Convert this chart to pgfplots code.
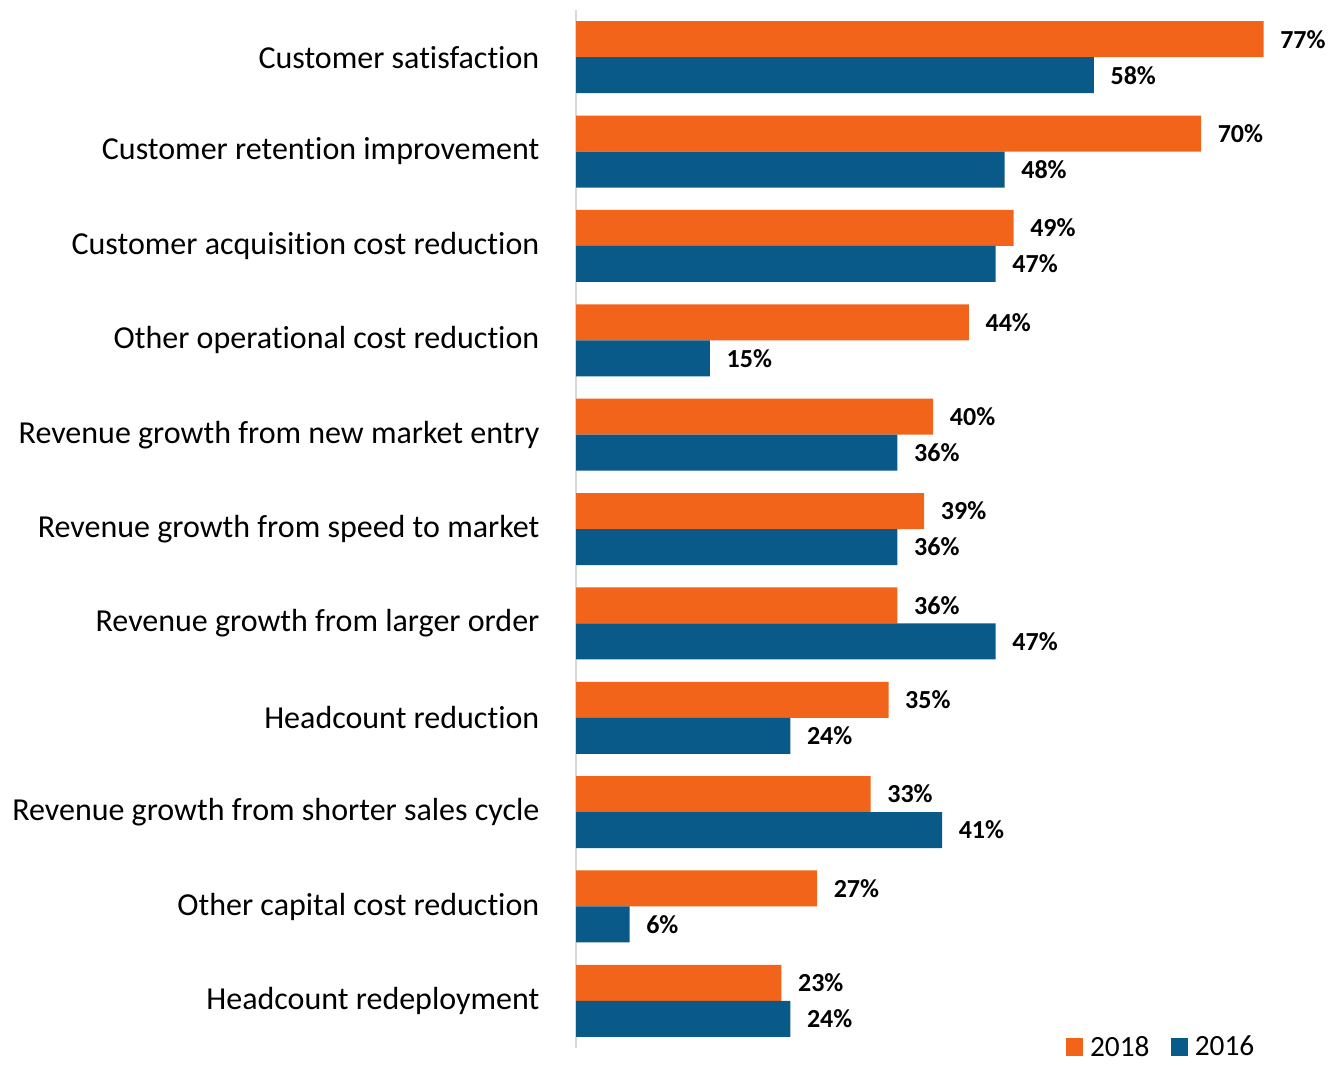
\documentclass[border=0pt]{standalone}
\usepackage{pgfplots}
\pgfplotsset{compat=1.18}
\usepackage{fontspec}
\setmainfont{Carlito}[Ligatures={NoCommon}]
\definecolor{c18}{HTML}{F26419}
\definecolor{c16}{HTML}{0A5A89}
\begin{document}
\begin{tikzpicture}
\path[use as bounding box] (0pt,0pt) rectangle (1002.75pt,-798pt);
\begin{axis}[
 at={(432pt,-7.5pt)}, anchor=north west,
 scale only axis, width=569.25pt, height=778.5pt,
 /pgf/number format/assume math mode=true,
 xbar, bar width=27pt,
 xmin=0, xmax=85,
 ymin=-0.5, ymax=10.5, y dir=reverse,
 ytick={0,...,10},
 yticklabels={Customer satisfaction,Customer retention improvement,Customer acquisition cost reduction,Other operational cost reduction,Revenue growth from new market entry,Revenue growth from speed to market,Revenue growth from larger order,Headcount reduction,Revenue growth from shorter sales cycle,Other capital cost reduction,Headcount redeployment},
 axis x line=none,
 axis y line*=left,
 y axis line style={draw=black!15, line width=1.5pt, -},
 major tick length=0pt,
 yticklabel style={font=\fontsize{24}{28}\selectfont, xshift=-24pt},
 nodes near coords={\pgfmathprintnumber{\pgfplotspointmeta}\%},
 nodes near coords style={font=\fontsize{19.5}{22}\selectfont\bfseries, black, xshift=9pt},
 legend columns=2,
 legend style={draw=none, fill=none, at={(axis description cs:0.64,0.001)}, anchor=west, font=\fontsize{22}{24}\selectfont, /tikz/every odd column/.append style={column sep=3pt}, /tikz/every even column/.append style={column sep=14pt}},
 legend image code/.code={\fill[#1] (0pt,-6.5pt) rectangle (13pt,6.5pt);},
]
\addplot[fill=c18, draw=none, bar shift=13.5pt] coordinates {(77,0) (70,1) (49,2) (44,3) (40,4) (39,5) (36,6) (35,7) (33,8) (27,9) (23,10)};
\addplot[fill=c16, draw=none, bar shift=-13.5pt] coordinates {(58,0) (48,1) (47,2) (15,3) (36,4) (36,5) (47,6) (24,7) (41,8) (6,9) (24,10)};
\legend{2018,2016}
\end{axis}
\end{tikzpicture}
\end{document}
